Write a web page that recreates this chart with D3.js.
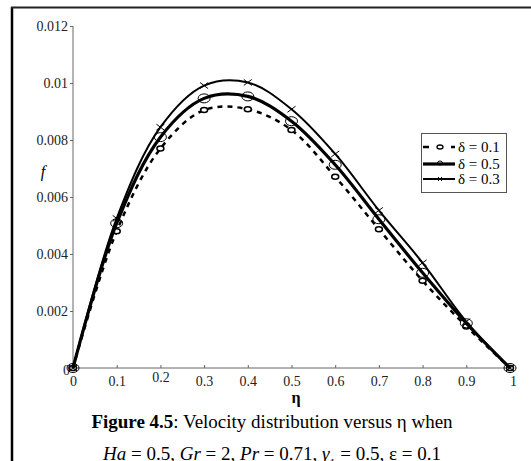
<!DOCTYPE html>
<html>
<head>
<meta charset="utf-8">
<script src="https://cdn.jsdelivr.net/npm/d3@7"></script>
<style>
  body { margin: 0; background: #fff; }
  svg, svg text { font-family: "Liberation Serif", "Times New Roman", serif; }
</style>
</head>
<body>
<div id="chart"></div>
<script>
// data
var eta = [0, 0.1, 0.2, 0.3, 0.4, 0.5, 0.6, 0.7, 0.8, 0.9, 1];
var f_d01 = [0, 0.0048, 0.0077, 0.00905, 0.00908, 0.00835, 0.00671, 0.00487, 0.00306, 0.00146, 0];
var f_d05 = [0, 0.00508, 0.0081, 0.00946, 0.00953, 0.00866, 0.00713, 0.00522, 0.00334, 0.00157, 0];
var f_d03 = [0, 0.00525, 0.00845, 0.00991, 0.01002, 0.00908, 0.00751, 0.00553, 0.00369, 0.00163, 0];
var xTicks = [0, 0.1, 0.2, 0.3, 0.4, 0.5, 0.6, 0.7, 0.8, 0.9, 1];
var yTicks = [0.002, 0.004, 0.006, 0.008, 0.01, 0.012];
var legendLabels = ["δ = 0.1", "δ = 0.5", "δ = 0.3"];

var W = 531, H = 461;
var serif = "'Liberation Serif', 'Times New Roman', serif";

var svg = d3.select("#chart").append("svg")
    .attr("width", W)
    .attr("height", H);

svg.append("rect").attr("width", W).attr("height", H).attr("fill", "#fff");

// outer frame (only left + top visible)
svg.append("line").attr("x1", 12).attr("x2", 12).attr("y1", 7).attr("y2", H)
    .attr("stroke", "#000").attr("stroke-width", 2.5);
svg.append("line").attr("x1", 11).attr("x2", W).attr("y1", 7.5).attr("y2", 7.5)
    .attr("stroke", "#222").attr("stroke-width", 2);

var x = d3.scaleLinear().domain([0, 1]).range([73, 510]);
var y = d3.scaleLinear().domain([0, 0.012]).range([368, 26]);

// axes
var yAxis = svg.append("g")
    .attr("transform", "translate(" + x(0) + ",0)")
    .call(d3.axisLeft(y).tickValues(yTicks).tickSize(3).tickPadding(2)
      .tickFormat(function(d) { return d3.format("")(+d.toPrecision(3)); }));
yAxis.attr("font-family", serif);
yAxis.select(".domain").attr("stroke", "#666").attr("d", "M0," + y(0.012) + "V" + y(0));
yAxis.selectAll(".tick line").attr("stroke", "#666");
yAxis.selectAll("text").attr("fill", "#222").style("font-size", "14px")
    .style("font-family", serif);

var xAxis = svg.append("g")
    .attr("transform", "translate(0," + y(0) + ")")
    .call(d3.axisBottom(x).tickValues(xTicks).tickSize(-3).tickPadding(8)
      .tickFormat(function(d) { return d3.format("")(d); }));
xAxis.attr("font-family", serif);
xAxis.select(".domain").attr("stroke", "#666").attr("d", "M" + x(0) + ",0H" + x(1));
xAxis.selectAll(".tick line").attr("stroke", "#666");
xAxis.selectAll("text").attr("fill", "#222").style("font-size", "14px")
    .style("font-family", serif)
    .attr("dy", function(d) { return d === 0.2 ? "0.45em" : "0.71em"; })
    .attr("dx", function(d) { return d === 1 ? 3 : 0; });

// y "0" label sits left of the origin
svg.append("text").attr("x", x(0) - 3).attr("y", y(0) + 7)
    .attr("text-anchor", "end").attr("fill", "#222").style("font-size", "14px")
    .style("font-family", serif).text("0");

// axis titles
svg.append("text").attr("x", 296).attr("y", 403).attr("text-anchor", "middle")
    .style("font-family", serif).style("font-weight", "bold").style("font-size", "16px").text("η");
svg.append("text").attr("x", 43).attr("y", 177).attr("text-anchor", "middle")
    .style("font-family", serif).style("font-style", "italic").style("font-size", "16px").text("f");

// curves
var series = [
  {vals: f_d01, width: 2.5, dash: "5,5", marker: "dot"},
  {vals: f_d05, width: 3.2, dash: null, marker: "circle"},
  {vals: f_d03, width: 2, dash: null, marker: "cross"}
];

var line = d3.line()
    .x(function(d) { return x(d[0]); })
    .y(function(d) { return y(d[1]); })
    .curve(d3.curveCatmullRom.alpha(0.5));

series.forEach(function(s) {
  var pts = eta.map(function(e, i) { return [e, s.vals[i]]; });
  svg.append("path").datum(pts)
      .attr("d", line)
      .attr("fill", "none")
      .attr("stroke", "#000")
      .attr("stroke-width", s.width)
      .attr("stroke-dasharray", s.dash);

  var g = svg.append("g");
  pts.forEach(function(p) {
    var px = x(p[0]), py = y(p[1]);
    if (s.marker === "circle") {
      g.append("ellipse").attr("cx", px).attr("cy", py).attr("rx", 6).attr("ry", 4.5)
          .attr("fill", "none").attr("stroke", "#000").attr("stroke-width", 1);
    } else if (s.marker === "cross") {
      g.append("path").attr("d", "M" + (px - 4) + "," + (py - 3) + "L" + (px + 4) + "," + (py + 3) +
          "M" + (px - 4) + "," + (py + 3) + "L" + (px + 4) + "," + (py - 3))
          .attr("stroke", "#000").attr("stroke-width", 1);
    } else {
      g.append("ellipse").attr("cx", px).attr("cy", py).attr("rx", 3.5).attr("ry", 2.5)
          .attr("fill", "#fff").attr("stroke", "#000").attr("stroke-width", 1.5);
    }
  });
});

// legend
var lg = svg.append("g");
lg.append("rect").attr("x", 421.5).attr("y", 133.5).attr("width", 85).attr("height", 59)
    .attr("fill", "#fff").attr("stroke", "#555").attr("stroke-width", 1);
var ly = [147, 164, 179];
series.forEach(function(s, i) {
  lg.append("line").attr("x1", 423).attr("x2", 455).attr("y1", ly[i]).attr("y2", ly[i])
      .attr("stroke", "#000").attr("stroke-width", s.width)
      .attr("stroke-dasharray", s.dash ? "6,8" : null);
  var cx = 440;
  if (s.marker === "circle") {
    lg.append("ellipse").attr("cx", cx).attr("cy", ly[i] - 1).attr("rx", 2.5).attr("ry", 2)
        .attr("fill", "none").attr("stroke", "#000").attr("stroke-width", 1);
  } else if (s.marker === "cross") {
    lg.append("path").attr("d", "M" + (cx - 2) + "," + (ly[i] - 2) + "L" + (cx + 2) + "," + (ly[i] + 2) +
        "M" + (cx - 2) + "," + (ly[i] + 2) + "L" + (cx + 2) + "," + (ly[i] - 2))
        .attr("stroke", "#000").attr("stroke-width", 1);
  } else {
    lg.append("ellipse").attr("cx", cx).attr("cy", ly[i]).attr("rx", 3).attr("ry", 2)
        .attr("fill", "#fff").attr("stroke", "#000").attr("stroke-width", 1.3);
  }
  lg.append("text").attr("x", 458).attr("y", ly[i] + 5).style("font-size", "15px")
      .style("font-family", serif).text(legendLabels[i]);
});

// caption
var cap1 = svg.append("text").attr("x", 272).attr("y", 428).attr("text-anchor", "middle")
    .style("font-family", serif).style("font-size", "19px");
cap1.append("tspan").style("font-weight", "bold").text("Figure 4.5");
cap1.append("tspan").text(": Velocity distribution versus η when");

var cap2 = svg.append("text").attr("x", 272).attr("y", 460).attr("text-anchor", "middle")
    .style("font-family", serif).style("font-size", "19px");
cap2.append("tspan").style("font-style", "italic").text("Ha");
cap2.append("tspan").text(" = 0.5, ");
cap2.append("tspan").style("font-style", "italic").text("Gr");
cap2.append("tspan").text(" = 2, ");
cap2.append("tspan").style("font-style", "italic").text("Pr");
cap2.append("tspan").text(" = 0.71, ");
cap2.append("tspan").style("font-style", "italic").text("γ");
cap2.append("tspan").attr("baseline-shift", "sub").style("font-size", "12px").text("1");
cap2.append("tspan").text(" = 0.5, ε = 0.1");
</script>
</body>
</html>
